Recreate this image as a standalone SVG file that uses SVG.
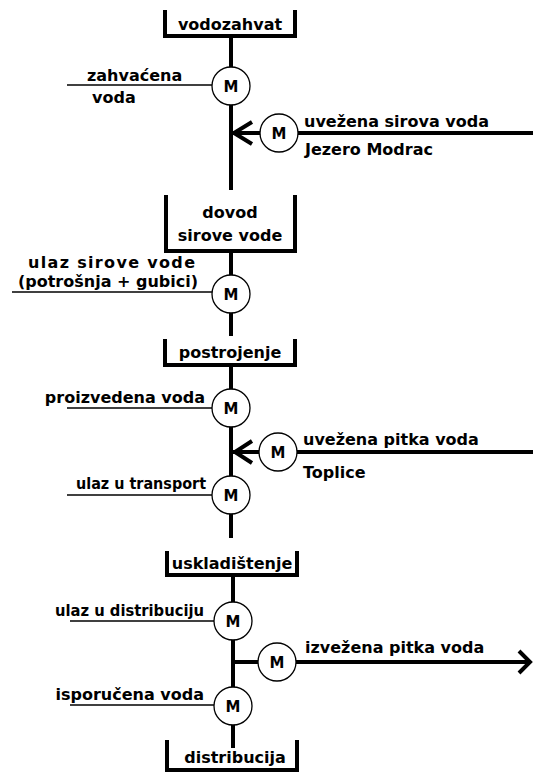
<svg xmlns="http://www.w3.org/2000/svg" width="533" height="774" viewBox="0 0 533 774">
<style>
text{font-family:"DejaVu Sans","Liberation Sans",sans-serif;font-weight:bold;font-size:16px;fill:#000}
.c{text-anchor:middle}
.e{text-anchor:end}
.m{font-size:15px}
.main{stroke:#000;stroke-width:4;fill:none}
.thin{stroke:#000;stroke-width:1.5;fill:none}
.box{stroke:#000;stroke-width:4;fill:none;stroke-linejoin:miter}
.meter circle{fill:#fff;stroke:#000;stroke-width:1.3}
</style>
<rect width="533" height="774" fill="#fff"/>
<g id="connectors">
  <line class="main" x1="231" y1="36" x2="231" y2="190"/>
  <line class="main" x1="231" y1="251" x2="231" y2="336"/>
  <line class="main" x1="231" y1="365" x2="231" y2="538"/>
  <line class="main" x1="233" y1="575" x2="233" y2="748"/>
  <line class="thin" x1="67" y1="85" x2="212" y2="85"/>
  <line class="thin" x1="12" y1="292" x2="213" y2="292"/>
  <line class="thin" x1="67" y1="408" x2="212" y2="408"/>
  <line class="thin" x1="67" y1="495" x2="212" y2="495"/>
  <line class="thin" x1="70" y1="621" x2="214" y2="621"/>
  <line class="thin" x1="70" y1="705" x2="214" y2="705"/>
  <line class="main" x1="233" y1="133" x2="261" y2="133"/>
  <line class="main" x1="298" y1="133" x2="533" y2="133"/>
  <polyline class="main" points="252,122 234,133 252,144"/>
  <line class="main" x1="233" y1="452" x2="259" y2="452"/>
  <line class="main" x1="297" y1="452" x2="533" y2="452"/>
  <polyline class="main" points="252,441 235,452 252,463"/>
  <line class="main" x1="233" y1="662" x2="258" y2="662"/>
  <line class="main" x1="296" y1="662" x2="529" y2="662"/>
  <polyline class="main" points="519,651 530,662 519,673"/>
</g>
<g id="vodozahvat">
  <polyline class="box" points="165,10 165,36 295,36 295,10"/>
  <text class="c" x="230" y="30">vodozahvat</text>
</g>
<g id="dovod">
  <polyline class="box" points="166,195 166,251 295,251 295,195"/>
  <text class="c" x="230" y="218">dovod</text>
  <text class="c" x="230" y="241">sirove vode</text>
</g>
<g id="postrojenje">
  <polyline class="box" points="165,339 165,365 295,365 295,339"/>
  <text class="c" x="230" y="358">postrojenje</text>
</g>
<g id="uskladistenje">
  <polyline class="box" points="167,551 167,575 297,575 297,551"/>
  <text class="c" x="232" y="569">uskladištenje</text>
</g>
<g id="distribucija">
  <polyline class="box" points="167,740 167,770 297,770 297,740"/>
  <text class="c" x="235" y="763">distribucija</text>
</g>
<g id="m1" class="meter">
  <circle cx="231" cy="86" r="19"/>
  <text class="c m" x="231" y="92">M</text>
  <text x="87" y="81">zahvaćena</text>
  <text x="92" y="103">voda</text>
</g>
<g id="m-import1" class="meter">
  <circle cx="279" cy="133" r="19"/>
  <text class="c m" x="279" y="139">M</text>
  <text x="304" y="127">uvežena sirova voda</text>
  <text x="305" y="155">Jezero Modrac</text>
</g>
<g id="m2" class="meter">
  <circle cx="231" cy="294" r="19"/>
  <text class="c m" x="231" y="300">M</text>
  <text x="28" y="268" textLength="167" lengthAdjust="spacing">ulaz sirove vode</text>
  <text x="108" y="287" class="c">(potrošnja + gubici)</text>
</g>
<g id="m3" class="meter">
  <circle cx="231" cy="408" r="19"/>
  <text class="c m" x="231" y="414">M</text>
  <text class="e" x="205" y="403">proizvedena voda</text>
</g>
<g id="m-import2" class="meter">
  <circle cx="278" cy="452" r="19"/>
  <text class="c m" x="278" y="458">M</text>
  <text x="303" y="445">uvežena pitka voda</text>
  <text x="303" y="478">Toplice</text>
</g>
<g id="m4" class="meter">
  <circle cx="231" cy="495" r="19"/>
  <text class="c m" x="231" y="501">M</text>
  <text x="76" y="489" textLength="130" lengthAdjust="spacingAndGlyphs">ulaz u transport</text>
</g>
<g id="m5" class="meter">
  <circle cx="233" cy="621" r="19"/>
  <text class="c m" x="233" y="627">M</text>
  <text x="55" y="616" textLength="149" lengthAdjust="spacingAndGlyphs">ulaz u distribuciju</text>
</g>
<g id="m-export" class="meter">
  <circle cx="277" cy="662" r="19"/>
  <text class="c m" x="277" y="668">M</text>
  <text x="305" y="653">izvežena pitka voda</text>
</g>
<g id="m6" class="meter">
  <circle cx="233" cy="706" r="19"/>
  <text class="c m" x="233" y="712">M</text>
  <text class="e" x="204" y="700">isporučena voda</text>
</g>
</svg>
